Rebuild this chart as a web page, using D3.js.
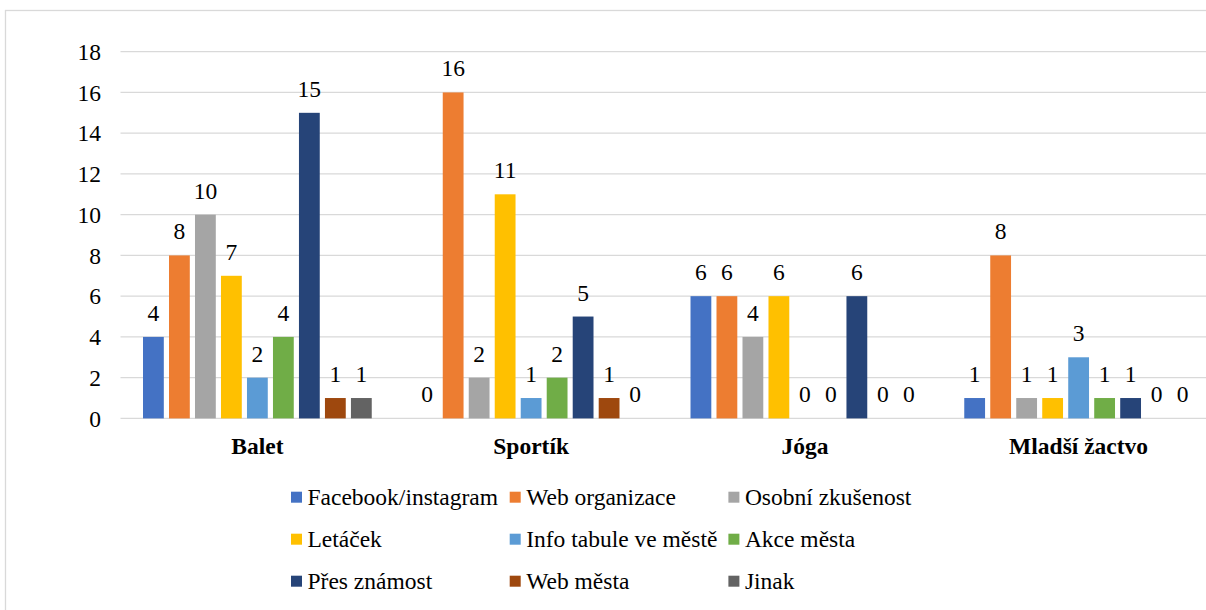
<!DOCTYPE html>
<html>
<head>
<meta charset="utf-8">
<script src="https://cdn.jsdelivr.net/npm/d3@7"></script>
<style>
  @font-face { font-family: "ChartSerif"; src: local("Liberation Serif"), local("LiberationSerif"), local("Times New Roman"); font-weight: normal; }
  @font-face { font-family: "ChartSerif"; src: local("Liberation Serif Bold"), local("LiberationSerif-Bold"), local("Times New Roman Bold"); font-weight: bold; }
</style>
</head>
<body style="margin:0">
<svg id="chart" width="1206" height="610" font-family="Liberation Serif, serif"></svg>
<script>
const categories = ["Balet", "Sportík", "Jóga", "Mladší žactvo"];
const seriesNames = ["Facebook/instagram", "Web organizace", "Osobní zkušenost", "Letáček",
  "Info tabule ve městě", "Akce města", "Přes známost", "Web města", "Jinak"];
const colors = ["#4472C4", "#ED7D31", "#A5A5A5", "#FFC000", "#5B9BD5", "#70AD47", "#264478", "#9E480E", "#636363"];
const valuesFacebook = [4, 0, 6, 1];
const valuesWebOrg = [8, 16, 6, 8];
const valuesOsobni = [10, 2, 4, 1];
const valuesLetacek = [7, 11, 6, 1];
const valuesInfo = [2, 1, 0, 3];
const valuesAkce = [4, 2, 0, 1];
const valuesZnamost = [15, 5, 6, 1];
const valuesWebMesta = [1, 1, 0, 0];
const valuesJinak = [1, 0, 0, 0];
const yTicks = [0, 2, 4, 6, 8, 10, 12, 14, 16, 18];

const seriesValues = [valuesFacebook, valuesWebOrg, valuesOsobni, valuesLetacek, valuesInfo,
  valuesAkce, valuesZnamost, valuesWebMesta, valuesJinak];

const svg = d3.select("#chart");
const FS = "23.5px";
const FF = '"Liberation Serif", ChartSerif, serif';

function serif(sel) {
  return sel.attr("font-family", "Liberation Serif, serif").style("font-family", FF).style("font-size", FS).attr("fill", "#000");
}

// outer frame (partly cropped)
svg.append("rect").attr("x", 5.5).attr("y", 10.5).attr("width", 1300).attr("height", 700)
  .attr("fill", "none").attr("stroke", "#d9d9d9").attr("stroke-width", 1.3);

const plotLeft = 120.5, plotRight = 1215.5;
const y = d3.scaleLinear().domain([0, 18]).range([418.4, 51.7]);
const x0 = d3.scaleBand().domain(categories).range([plotLeft, plotRight]).paddingInner(0).paddingOuter(0);
const x1 = d3.scaleBand().domain(seriesNames).range([0, x0.bandwidth()]).paddingInner(0.2).paddingOuter(0.866);

// gridlines (no axis helper font defaults)
svg.append("g").selectAll("line").data(yTicks).join("line")
  .attr("x1", plotLeft).attr("x2", plotRight)
  .attr("y1", d => y(d)).attr("y2", d => y(d))
  .attr("stroke", "#d9d9d9").attr("stroke-width", 1.3);

// y tick labels
serif(svg.append("g").selectAll("text").data(yTicks).join("text")
  .attr("x", plotLeft - 19.5).attr("y", d => y(d)).attr("dy", "0.35em")
  .attr("text-anchor", "end"))
  .text(d => d);

// bars
const groups = svg.append("g").selectAll("g").data(categories).join("g")
  .attr("transform", d => `translate(${x0(d)},0)`);

groups.each(function(cat, ci) {
  const g = d3.select(this);
  seriesNames.forEach((s, si) => {
    const v = seriesValues[si][ci];
    if (v > 0) {
      g.append("rect")
        .attr("x", x1(s)).attr("width", x1.bandwidth())
        .attr("y", y(v)).attr("height", y(0) - y(v))
        .attr("fill", colors[si]);
    }
    serif(g.append("text")
      .attr("x", x1(s) + x1.bandwidth() / 2)
      .attr("y", y(v) - 16)
      .attr("text-anchor", "middle"))
      .text(v);
  });
});

// category labels
serif(svg.append("g").selectAll("text").data(categories).join("text")
  .attr("x", d => x0(d) + x1("Facebook/instagram") + (x1("Jinak") + x1.bandwidth() - x1("Facebook/instagram")) / 2)
  .attr("y", 454)
  .attr("text-anchor", "middle"))
  .style("font-weight", "bold")
  .text(d => d);

// legend
const legend = svg.append("g");
seriesNames.forEach((s, i) => {
  const col = i % 3, row = Math.floor(i / 3);
  const lx = 291 + col * 218.7;
  const ly = 505 + row * 42;
  legend.append("rect").attr("x", lx).attr("y", ly - 13.3).attr("width", 11).attr("height", 11).attr("fill", colors[i]);
  serif(legend.append("text").attr("x", lx + 16.5).attr("y", ly)).text(s);
});
</script>
</body>
</html>
